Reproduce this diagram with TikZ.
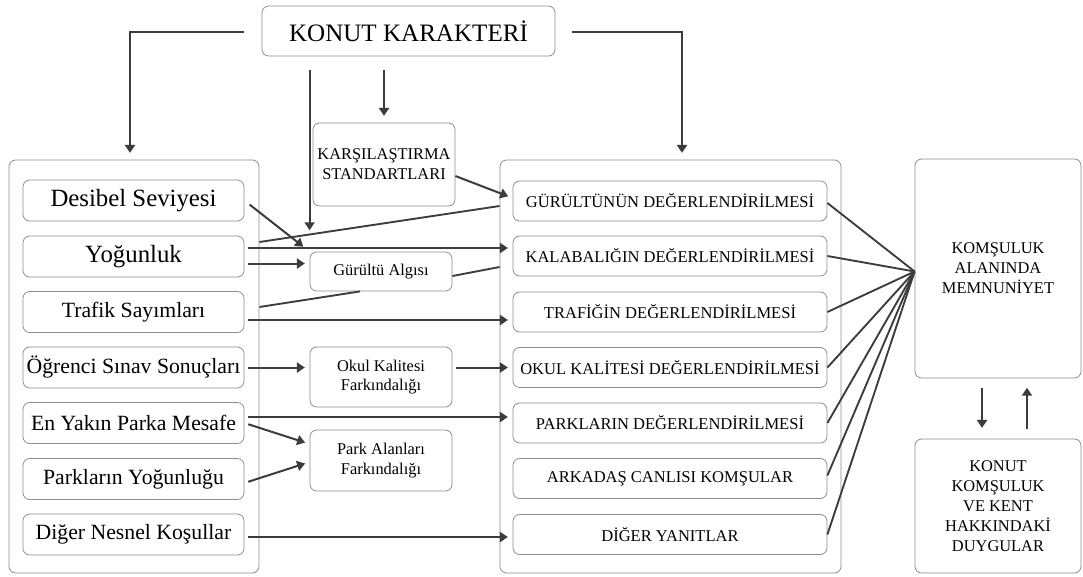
\documentclass[tikz,border=0pt]{standalone}
\usepackage{fontspec}
\setmainfont{Liberation Serif}
\usetikzlibrary{arrows.meta,calc}
\definecolor{boxgray}{HTML}{8C8C8C}
\definecolor{linegray}{HTML}{3C3C3C}
\begin{document}
\begin{tikzpicture}
        [x=0.75pt, y=-0.75pt,
        box/.style={draw=boxgray, line width=0.6pt, rounded corners=5pt, inner sep=0pt, align=center},
        bigitem/.style={box, minimum width=165.75pt, minimum height=30.75pt, font=\fontsize{18.6}{22}\selectfont},
        item/.style={box, minimum width=165.75pt, minimum height=30.75pt, font=\fontsize{16.3}{19}\selectfont},
        evalitem/.style={box, minimum width=235.5pt, minimum height=30pt, font=\fontsize{12.4}{15}\selectfont},
        aware/.style={box, minimum width=106.5pt, font=\fontsize{12.3}{14.8}\selectfont},
        result/.style={box, minimum width=124.5pt, font=\fontsize{12.3}{15}\selectfont},
        arrow/.style={draw=linegray, line width=1.5pt, -{Triangle[length=6pt,width=7.5pt]}, shorten <=3pt, shorten >=3.5pt},
        link/.style={draw=linegray, line width=1.4pt}]

        \useasboundingbox (0,0) rectangle (1083,576);

        % outer frames
        \node[box, minimum width=187.5pt, minimum height=309.75pt] (sol) at (134,366.5) {};
        \node[box, minimum width=255.75pt, minimum height=309.75pt] (orta) at (670.5,366.5) {};

        \node[box, minimum width=219.75pt, minimum height=37.5pt, font=\fontsize{18.8}{22}\selectfont] (konut) at (408.5,31) {KONUT KARAKTERİ};

        % objective conditions
        \node[bigitem] (desibel) at (133.5,200.5) {Desibel Seviyesi};
        \node[bigitem] (yog) at (133.5,256.5) {Yoğunluk};
        \node[item] (trafik) at (133.5,312) {Trafik Sayımları};
        \node[item] (ogrenci) at (133.5,367.5) {Öğrenci Sınav Sonuçları};
        \node[item] (mesafe) at (133.5,423) {En Yakın Parka Mesafe};
        \node[item] (parklar) at (133.5,479) {Parkların Yoğunluğu};
        \node[item] (diger) at (133.5,534.5) {Diğer Nesnel Koşullar};

        % perception boxes
        \node[aware, minimum height=62.25pt] (karsi) at (384,164.5) {KARŞILAŞTIRMA\\STANDARTLARI};
        \node[aware, minimum height=29.25pt] (gurultu) at (381,271.5) {Gürültü Algısı};
        \node[aware, minimum height=45pt] (okul) at (381,377) {Okul Kalitesi\\Farkındalığı};
        \node[aware, minimum height=45.75pt] (parkfark) at (381,460.5) {Park Alanları\\Farkındalığı};

        % evaluations
        \node[evalitem] (gurd) at (670,201) {GÜRÜLTÜNÜN DEĞERLENDİRİLMESİ};
        \node[evalitem] (kalab) at (670,256) {KALABALIĞIN DEĞERLENDİRİLMESİ};
        \node[evalitem] (trafd) at (670,312) {TRAFİĞİN DEĞERLENDİRİLMESİ};
        \node[evalitem] (okuld) at (670,367.5) {OKUL KALİTESİ DEĞERLENDİRİLMESİ};
        \node[evalitem] (parkd) at (670,423) {PARKLARIN DEĞERLENDİRİLMESİ};
        \node[evalitem] (arkadas) at (670,478.5) {ARKADAŞ CANLISI KOMŞULAR};
        \node[evalitem] (digery) at (670,534.5) {DİĞER YANITLAR};

        % satisfaction and feelings
        \node[result, minimum height=164.25pt] (memnun) at (998,268.5) {KOMŞULUK\\ALANINDA\\MEMNUNİYET};
        \node[result, minimum height=100.5pt] (duygu) at (998,506) {KONUT\\KOMŞULUK\\VE KENT\\HAKKINDAKİ\\DUYGULAR};

        % arrows from the top box
        \draw[arrow, shorten >=5pt] ($(konut.west)+(-14,1)$) -| ($(sol.north)+(-4,0)$);
        \draw[arrow, shorten >=5pt] ($(konut.east)+(13,1)$) -| ($(orta.north)+(11.5,0)$);
        \draw[arrow, shorten <=10pt, shorten >=16pt] (konut.south -| gurultu.north west) -- (gurultu.north west);
        \draw[arrow, shorten <=10pt, shorten >=5pt] (konut.south -| karsi.north) -- (karsi.north);

        % noise and crowding
        \draw[arrow, shorten <=0pt] ($(karsi.east)+(0,11.5)$) -- ($(gurd.west)+(0,-3)$);
        \draw[arrow, shorten <=5pt, shorten >=6pt] (desibel.east) -- (gurultu.north west);
        \draw[link] ($(yog.center -| sol.east)+(0,-14.5)$) -- ($(gurd.west -| orta.west)+(0,5)$);
        \draw[arrow] ($(yog.east)+(0,-8.5)$) -- ($(kalab.west)+(0,-8)$);
        \draw[arrow] ($(yog.east)+(0,7)$) -- ($(gurultu.west)+(0,-8)$);
        \draw[link] ($(gurultu.east)+(0,4.5)$) -- ($(kalab.west -| orta.west)+(0,11)$);
        \draw[link] ($(trafik.center -| sol.east)+(0,-5)$) -- ($(gurultu.south)+(-21,0)$);

        % traffic, school, parks, other
        \draw[arrow] ($(trafik.east)+(0,8)$) -- ($(trafd.west)+(0,8)$);
        \draw[arrow] (ogrenci.east) -- (ogrenci.east -| okul.west);
        \draw[arrow] (okuld.west -| okul.east) -- (okuld.west);
        \draw[arrow] ($(mesafe.east)+(0,-6)$) -- ($(parkd.west)+(0,-6)$);
        \draw[arrow] (mesafe.east) -- ($(parkfark.west)+(0,-16.5)$);
        \draw[arrow] ($(parklar.east)+(0,4)$) -- ($(parkfark.west)+(0,1.5)$);
        \draw[arrow] ($(diger.east)+(0,2.5)$) -- ($(digery.west)+(0,2.5)$);

        % evaluations into satisfaction
        \draw[link] ($(gurd.east)+(0,2)$) -- ($(memnun.west)+(0,3)$);
        \draw[link] (kalab.east) -- ($(memnun.west)+(0,3)$);
        \draw[link] (trafd.east) -- ($(memnun.west)+(0,3)$);
        \draw[link] (okuld.east) -- ($(memnun.west)+(0,3)$);
        \draw[link] (parkd.east) -- ($(memnun.west)+(0,3)$);
        \draw[link] ($(arkadas.east)+(0,-3)$) -- ($(memnun.west)+(0,3)$);
        \draw[link] (digery.east) -- ($(memnun.west)+(0,3)$);

        % satisfaction and feelings
        \draw[arrow, shorten <=7pt, shorten >=8pt] ($(memnun.south)+(-16,0)$) -- ($(duygu.north)+(-16,0)$);
        \draw[arrow, shorten <=7.5pt, shorten >=7pt] ($(duygu.north)+(29,0)$) -- ($(memnun.south)+(29,0)$);

\end{tikzpicture}
\end{document}
